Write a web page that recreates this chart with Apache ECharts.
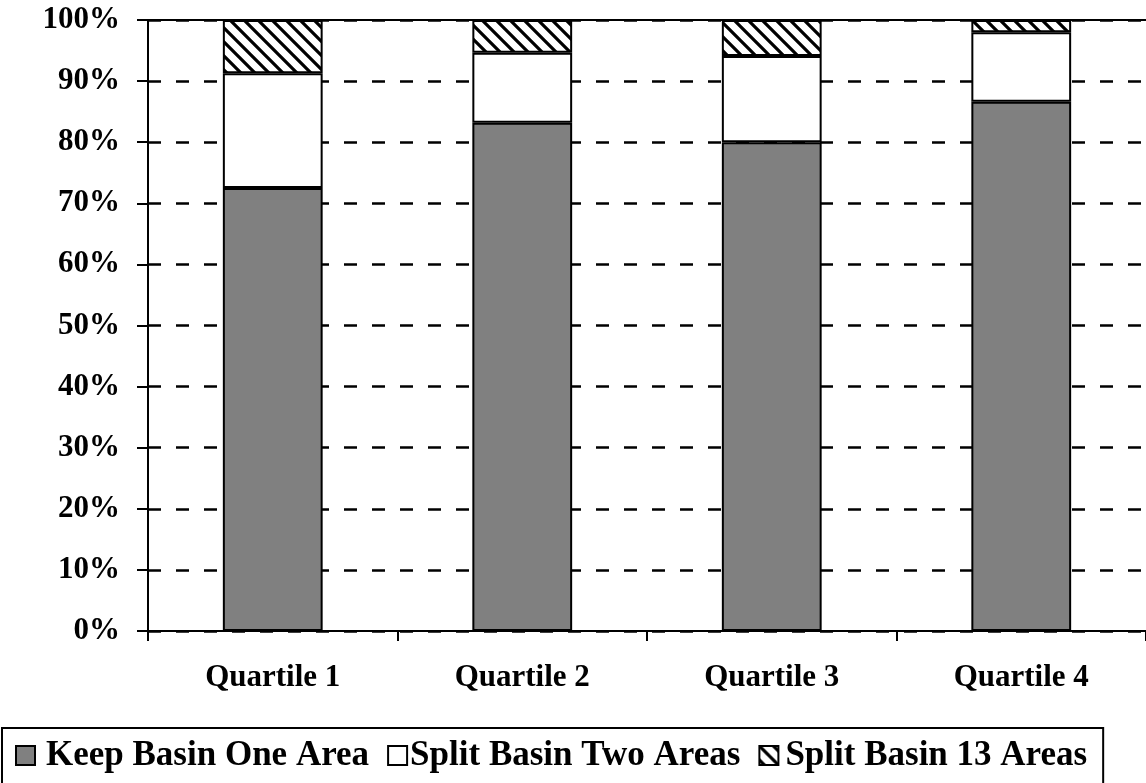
<!DOCTYPE html>
<html><head><meta charset="utf-8">
<script src="https://cdn.jsdelivr.net/npm/echarts@6/dist/echarts.min.js"></script>
<style>html,body{margin:0;padding:0;background:#fff}#c{width:1146px;height:783px}</style>
</head><body><div id="c"></div>
<script>
const categories = ['Quartile 1', 'Quartile 2', 'Quartile 3', 'Quartile 4'];
const keepOne = [72.5, 83.2, 80.0, 86.6];
const splitTwo = [18.8, 11.45, 14.1, 11.4];
const split13 = [8.7, 5.35, 5.9, 2.0];
const seriesNames = ['Keep Basin One Area', 'Split Basin Two Areas', 'Split Basin 13 Areas'];

function hatch() {
  const s = 14, cv = document.createElement('canvas');
  cv.width = s; cv.height = s;
  const g = cv.getContext('2d');
  g.fillStyle = '#fff'; g.fillRect(0, 0, s, s);
  g.strokeStyle = '#000'; g.lineWidth = 3.2;
  g.beginPath();
  g.moveTo(-s, -s); g.lineTo(2 * s, 2 * s);
  g.moveTo(-s, 0); g.lineTo(s, 2 * s);
  g.moveTo(0, -s); g.lineTo(2 * s, s);
  g.stroke();
  return cv;
}
const font = '"Liberation Serif", "Times New Roman", serif';
const chart = echarts.init(document.getElementById('c'));
const border = { borderColor: '#000', borderWidth: 2 };
const legendText = [
  { padding: [0, 0, 0, 6] },
  { padding: [0, 0, 0, -2] },
  { padding: [0, 0, 0, 2] }
];
chart.setOption({
  animation: false,
  textStyle: { fontFamily: font },
  grid: { left: 148, right: -7, top: 20, bottom: 152, containLabel: false },
  legend: {
    left: 2, top: 728,
    padding: [10, 16, 11, 13],
    borderColor: '#000', borderWidth: 2,
    itemWidth: 19, itemHeight: 19, itemGap: 18,
    icon: 'rect',
    textStyle: { fontFamily: font, fontWeight: 'bold', fontSize: 35, color: '#000' },
    data: seriesNames.map((n, i) => ({ name: n, textStyle: legendText[i] }))
  },
  xAxis: [{
    type: 'category', data: categories,
    axisLine: { lineStyle: { color: '#000', width: 2 } },
    axisTick: { show: true, length: 10, inside: false, lineStyle: { color: '#000', width: 2 } },
    axisLabel: { margin: 31, fontFamily: font, fontWeight: 'bold', fontSize: 31, color: '#000' }
  }, {
    type: 'category', data: categories, position: 'top',
    axisLine: { lineStyle: { color: '#000', width: 2 } },
    axisTick: { show: false }, axisLabel: { show: false }
  }],
  yAxis: {
    type: 'value', min: 0, max: 100, interval: 10,
    axisLine: { show: true, lineStyle: { color: '#000', width: 2 } },
    axisTick: { show: true, length: 11, lineStyle: { color: '#000', width: 2 } },
    axisLabel: { formatter: '{value}%', margin: 28, fontFamily: font, fontWeight: 'bold', fontSize: 31, color: '#000' },
    splitLine: { show: true, lineStyle: { color: '#000', width: 2.5, type: [13, 15] } }
  },
  series: [
    { name: seriesNames[0], type: 'bar', stack: 't', data: keepOne, barWidth: '40%', itemStyle: Object.assign({ color: '#808080' }, border) },
    { name: seriesNames[1], type: 'bar', stack: 't', data: splitTwo, barWidth: '40%', itemStyle: Object.assign({ color: '#fff' }, border) },
    { name: seriesNames[2], type: 'bar', stack: 't', data: split13, barWidth: '40%', itemStyle: Object.assign({ color: { image: hatch(), repeat: 'repeat' } }, border) }
  ]
});
</script></body></html>
